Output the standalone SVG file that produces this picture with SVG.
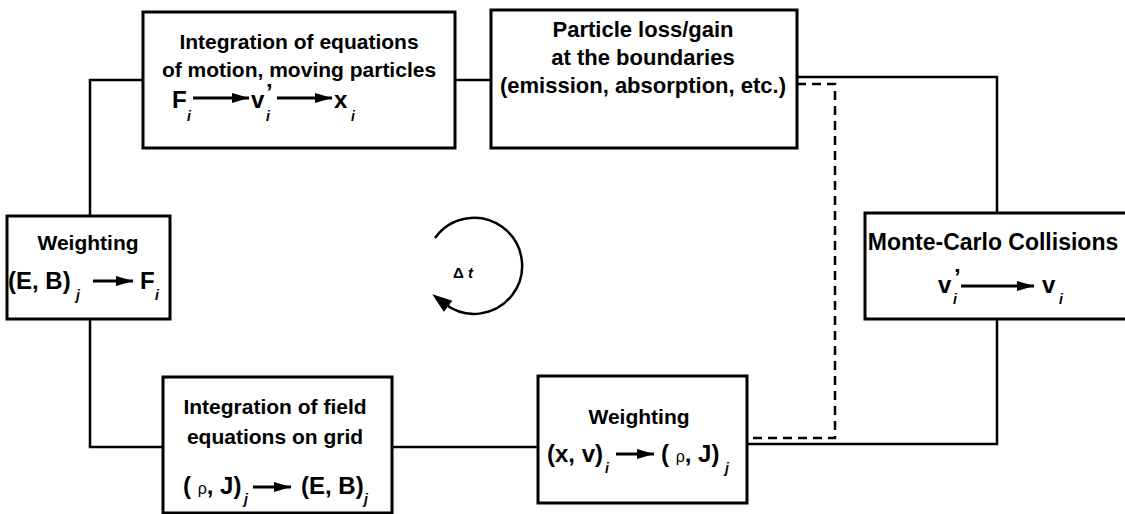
<svg xmlns="http://www.w3.org/2000/svg" width="1125" height="514" viewBox="0 0 1125 514">
<style>
.box{fill:#fff;stroke:#000;stroke-width:3}
.ln{fill:none;stroke:#000;stroke-width:2.5}
.dash{stroke-dasharray:9 6}
.t{font-family:"Liberation Sans",Arial,sans-serif;font-weight:bold;font-size:21px;text-anchor:middle;fill:#000}
.t22{font-size:22px}
.t23{font-size:23px}
.m{font-family:"Liberation Sans",Arial,sans-serif;font-weight:bold;font-size:24px;fill:#000}
.s{font-family:"Liberation Sans",Arial,sans-serif;font-weight:bold;font-style:italic;font-size:14px;fill:#000}
.rho{font-weight:normal;font-size:16px}
.fa{fill:none;stroke:#000;stroke-width:3}
</style>
<defs>
<marker id="ah" markerUnits="userSpaceOnUse" markerWidth="20" markerHeight="12" refX="17" refY="5" orient="auto">
<path d="M0,0 L17,5 L0,10 Z" fill="#000"/>
</marker>
<marker id="ca" markerUnits="userSpaceOnUse" markerWidth="22" markerHeight="16" refX="4" refY="7" orient="auto">
<path d="M0,0 L20,7 L0,14 Z" fill="#000"/>
</marker>
</defs>

<g id="connectors">
<path class="ln" d="M143,80 H90 V216"/>
<path class="ln" d="M90,319 V447 H163"/>
<path class="ln" d="M392,447 H538"/>
<path class="ln" d="M747,444 H997 V320"/>
<path class="ln" d="M997,213 V77 H797"/>
<path class="ln" d="M455,80 H491"/>
<path class="ln dash" d="M797,84 H835 V438 H747"/>
</g>

<g id="node-motion">
<rect class="box" x="143" y="12" width="312" height="136"/>
<text class="t" x="299" y="49">Integration of equations</text>
<text class="t" x="299" y="77">of motion, moving particles</text>
<text class="m" x="172" y="108">F</text>
<text class="s" x="187" y="121">i</text>
<line class="fa" x1="193" y1="98" x2="249" y2="98" marker-end="url(#ah)"/>
<text class="m" x="251" y="108">v</text>
<text class="s" x="266" y="121">i</text>
<text class="m" x="266" y="101">’</text>
<line class="fa" x1="277" y1="98" x2="332" y2="98" marker-end="url(#ah)"/>
<text class="m" x="334" y="108">x</text>
<text class="s" x="351" y="121">i</text>
</g>

<g id="node-boundaries">
<rect class="box" x="491" y="10" width="306" height="138"/>
<text class="t t22" x="643" y="37">Particle loss/gain</text>
<text class="t t22" x="643" y="65">at the boundaries</text>
<text class="t t22" x="643" y="93">(emission, absorption, etc.)</text>
</g>

<g id="node-weighting-force">
<rect class="box" x="7" y="216" width="163" height="103"/>
<text class="t" x="88" y="250">Weighting</text>
<text class="m" x="8" y="289">(E, B)</text>
<text class="s" x="76" y="300">j</text>
<line class="fa" x1="93" y1="281" x2="133" y2="281" marker-end="url(#ah)"/>
<text class="m" x="140" y="289">F</text>
<text class="s" x="155" y="300">i</text>
</g>

<g id="node-mcc">
<rect class="box" x="865" y="213" width="262" height="106"/>
<text class="t t23" x="993" y="250">Monte-Carlo Collisions</text>
<text class="m" x="938" y="293">v</text>
<text class="s" x="953" y="304">i</text>
<text class="m" x="954" y="286">’</text>
<line class="fa" x1="961" y1="286" x2="1034" y2="286" marker-end="url(#ah)"/>
<text class="m" x="1042" y="293">v</text>
<text class="s" x="1059" y="304">i</text>
</g>

<g id="node-field">
<rect class="box" x="163" y="377" width="229" height="136"/>
<text class="t" x="275" y="414">Integration of field</text>
<text class="t" x="275" y="444">equations on grid</text>
<text class="m" x="183" y="494">( <tspan class="rho">ρ</tspan>, J)</text>
<text class="s" x="244" y="504">j</text>
<line class="fa" x1="253" y1="487" x2="291" y2="487" marker-end="url(#ah)"/>
<text class="m" x="301" y="494">(E, B)</text>
<text class="s" x="364" y="504">j</text>
</g>

<g id="node-weighting-charge">
<rect class="box" x="538" y="376" width="209" height="127"/>
<text class="t" x="639" y="424">Weighting</text>
<text class="m" x="547" y="462">(x, v)</text>
<text class="s" x="605" y="473">i</text>
<line class="fa" x1="616" y1="454" x2="654" y2="454" marker-end="url(#ah)"/>
<text class="m" x="661" y="462">( <tspan class="rho">ρ</tspan>, J)</text>
<text class="s" x="725" y="473">j</text>
</g>

<g id="cycle">
<path class="ln" d="M435,238 A48,48 0 1 1 445,304" marker-end="url(#ca)"/>
<text class="m" x="453" y="278" style="font-size:15px">Δ <tspan style="font-style:italic">t</tspan></text>
</g>
</svg>
